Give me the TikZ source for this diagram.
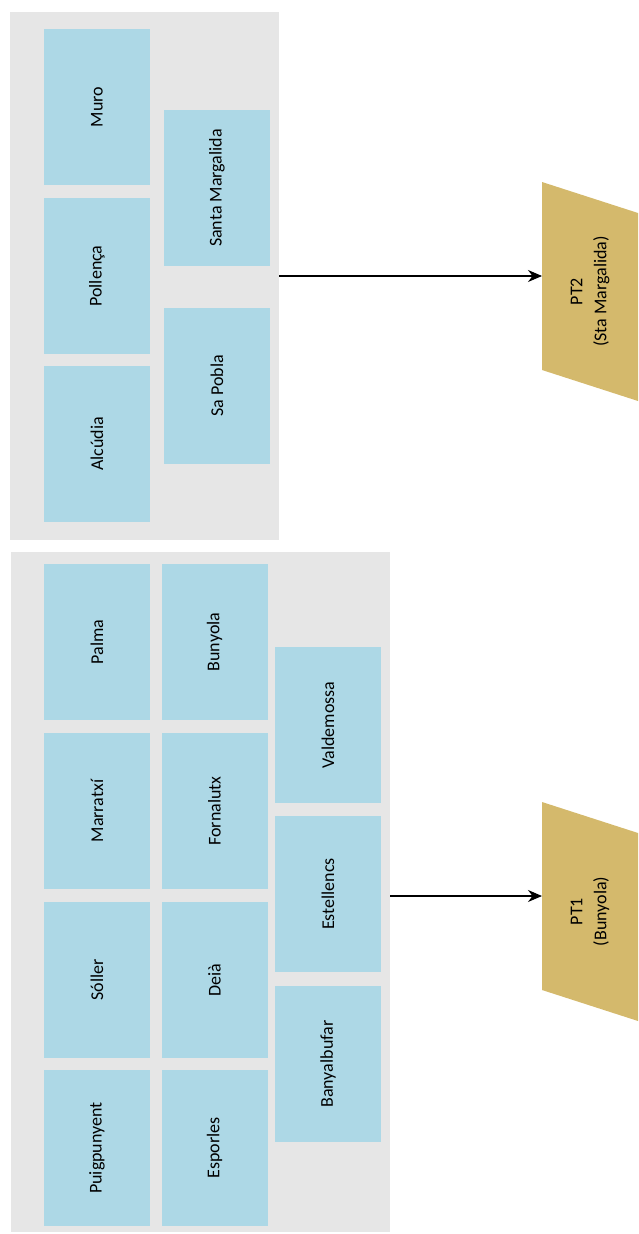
\documentclass[tikz,border=0pt]{standalone}
\usepackage{fontspec}
\setmainfont{Carlito}
\usetikzlibrary{arrows.meta}
\definecolor{townblue}{RGB}{173,216,230}
\definecolor{zonegrey}{RGB}{230,230,230}
\definecolor{plantgold}{RGB}{212,185,108}
\tikzset{every path/.style={semithick}}
\tikzset{
  zone/.style={fill=zonegrey, inner sep=0pt},
  town/.style={fill=townblue, rotate=90, inner sep=0pt,
    minimum width=156pt, minimum height=106pt,
    font=\fontsize{18}{24}\selectfont},
  plant/.style={rotate=90, align=center, inner sep=0pt,
    font=\fontsize{18}{24}\selectfont},
  feed/.style={-{Stealth[length=14pt,width=12pt]}, line width=1.1pt}
}
\newcommand{\plant}[4]{
  \fill[plantgold] (#1,#2) -- ++(96,31) -- ++(0,188) -- ++(-96,-31) -- cycle;
  \coordinate (#3in) at (#1,#2+94);
  \node[plant] (#3) at (#1+48,#2+109.5) {#4};
}

\begin{document}
\begin{tikzpicture}[x=1pt,y=-1pt]
  \useasboundingbox (0,0) rectangle (638,1234);

  % nord
  \node[zone, minimum width=269pt, minimum height=528pt] (zone2) at (144.5,276) {};
  \node[town] (muro) at (97,107) {Muro};
  \node[town] (pollenca) at (97,276) {Pollença};
  \node[town] (alcudia) at (97,444) {Alcúdia};
  \node[town] (santamargalida) at (217,188) {Santa Margalida};
  \node[town] (sapobla) at (217,386) {Sa Pobla};

  % serra
  \node[zone, minimum width=379pt, minimum height=680pt] (zone1) at (200.5,892) {};
  \node[town] (palma) at (97,642) {Palma};
  \node[town] (marratxi) at (97,811) {Marratxí};
  \node[town] (soller) at (97,980) {Sóller};
  \node[town] (puigpunyent) at (97,1148) {Puigpunyent};
  \node[town] (bunyola) at (214.5,642) {Bunyola};
  \node[town] (fornalutx) at (214.5,811) {Fornalutx};
  \node[town] (deia) at (214.5,980) {Deià};
  \node[town] (esporles) at (214.5,1148) {Esporles};
  \node[town] (valdemossa) at (328,725) {Valdemossa};
  \node[town] (estellencs) at (328,894) {Estellencs};
  \node[town] (banyalbufar) at (328,1064) {Banyalbufar};

  % plantes
  \plant{542}{182}{pt2}{PT2\\(Sta Margalida)}
  \plant{542}{802}{pt1}{PT1\\(Bunyola)}

  \draw[feed] (zone2.east) -- (pt2in);
  \draw[feed] (zone1.east |- pt1in) -- (pt1in);
\end{tikzpicture}
\end{document}
